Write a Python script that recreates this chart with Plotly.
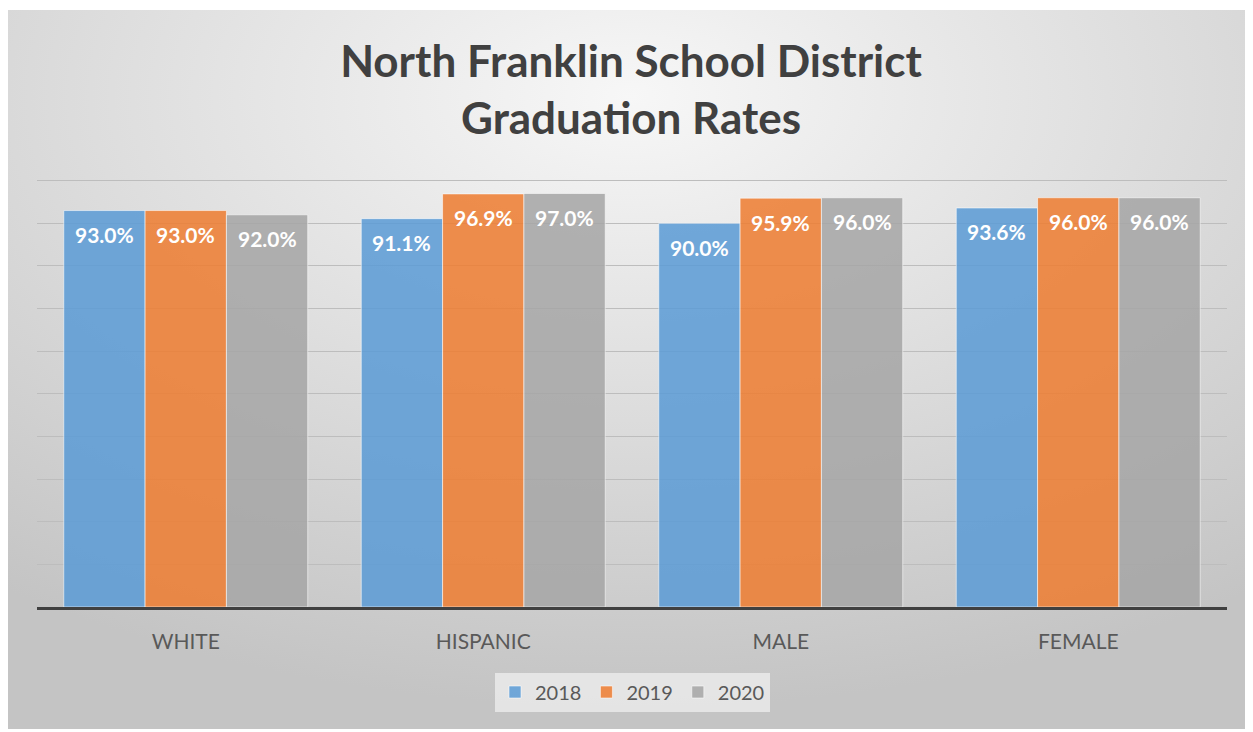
"""Grouped bar chart: North Franklin School District graduation rates."""

import urllib.parse

import plotly.graph_objects as go

categories = ["WHITE", "HISPANIC", "MALE", "FEMALE"]
years = ["2018", "2019", "2020"]
rate_2018 = [0.930, 0.911, 0.900, 0.936]
rate_2019 = [0.930, 0.969, 0.959, 0.960]
rate_2020 = [0.920, 0.970, 0.960, 0.960]

COLORS = {
    "2018": "rgba(91,155,213,0.86)",
    "2019": "rgba(237,125,49,0.86)",
    "2020": "rgba(165,165,165,0.86)",
}
FONT = "Lato, 'Open Sans', sans-serif"

# page has an 8px body margin, so the figure fills the rest of the window
W, H = 1245, 724
M = dict(l=29, r=26, t=171, b=125)
BARGAP = 0.18

# soft radial gradient for the chart panel (inline svg, no network needed)
svg = (
    "<svg xmlns='http://www.w3.org/2000/svg' width='1245' height='720' preserveAspectRatio='none'>"
    "<defs><radialGradient id='g' cx='50%' cy='12%' r='85%'>"
    "<stop offset='0' stop-color='#f7f7f7'/><stop offset='1' stop-color='#c4c4c4'/>"
    "</radialGradient></defs><rect width='1245' height='720' fill='url(#g)'/></svg>"
)
bg_src = "data:image/svg+xml;charset=utf-8," + urllib.parse.quote(svg)

pw = W - M["l"] - M["r"]
ph = H - M["t"] - M["b"]
bar_px = pw / len(categories) * (1 - BARGAP) / len(years)

fig = go.Figure()
for i, (year, vals) in enumerate(zip(years, [rate_2018, rate_2019, rate_2020])):
    fig.add_trace(go.Bar(
        name=year,
        x=categories,
        y=vals,
        marker=dict(color=COLORS[year], line=dict(color="rgba(255,255,255,0.55)", width=1)),
        hovertemplate=f"{year} %{{x}}: %{{y:.1%}}<extra></extra>",
    ))
    # value labels sit a little below the top of each bar, like the Excel original
    for cat, v in zip(categories, vals):
        fig.add_annotation(
            x=cat, y=v, xref="x", yref="y",
            text=f"{v:.1%}", showarrow=False,
            xshift=(i - 1) * bar_px, yshift=-24, yanchor="middle",
            font=dict(family=FONT, size=21, color="white", weight="bold"),
        )

fig.add_layout_image(
    source=bg_src,
    xref="paper", yref="paper",
    x=-M["l"] / pw, y=(H - M["b"] - 2) / ph,
    sizex=W / pw, sizey=(721 - 2) / ph,
    xanchor="left", yanchor="top",
    sizing="stretch", layer="below",
)

fig.update_layout(
    width=W,
    height=H,
    margin=M,
    paper_bgcolor="white",
    plot_bgcolor="rgba(0,0,0,0)",
    barmode="group",
    bargap=BARGAP,
    bargroupgap=0.0,
    title=dict(
        text="North Franklin School District<br>Graduation Rates",
        x=623 / W, xanchor="center",
        y=1 - 69 / H, yanchor="middle",
        font=dict(family=FONT, size=44, color="#404040", weight="bold"),
    ),
    xaxis=dict(
        showline=True, linecolor="#404040", linewidth=3,
        ticks="outside", ticklen=14, tickcolor="rgba(0,0,0,0)",
        tickfont=dict(family=FONT, size=21, color="#595959"),
        showgrid=False,
    ),
    yaxis=dict(
        range=[0, 1.004], tickvals=[i / 10 for i in range(11)],
        showticklabels=False,
        showgrid=True, gridcolor="#bdbdbd", gridwidth=1,
        zeroline=False,
    ),
    legend=dict(
        orientation="h",
        x=0.5 + (623 - W / 2) / pw, xanchor="center",
        y=(H - M["b"] - 684) / ph, yanchor="middle",
        bgcolor="rgba(236,236,236,0.8)",
        font=dict(family=FONT, size=20, color="#595959"),
        itemwidth=30,
    ),
    showlegend=True,
)

fig.write_html("out.html")
